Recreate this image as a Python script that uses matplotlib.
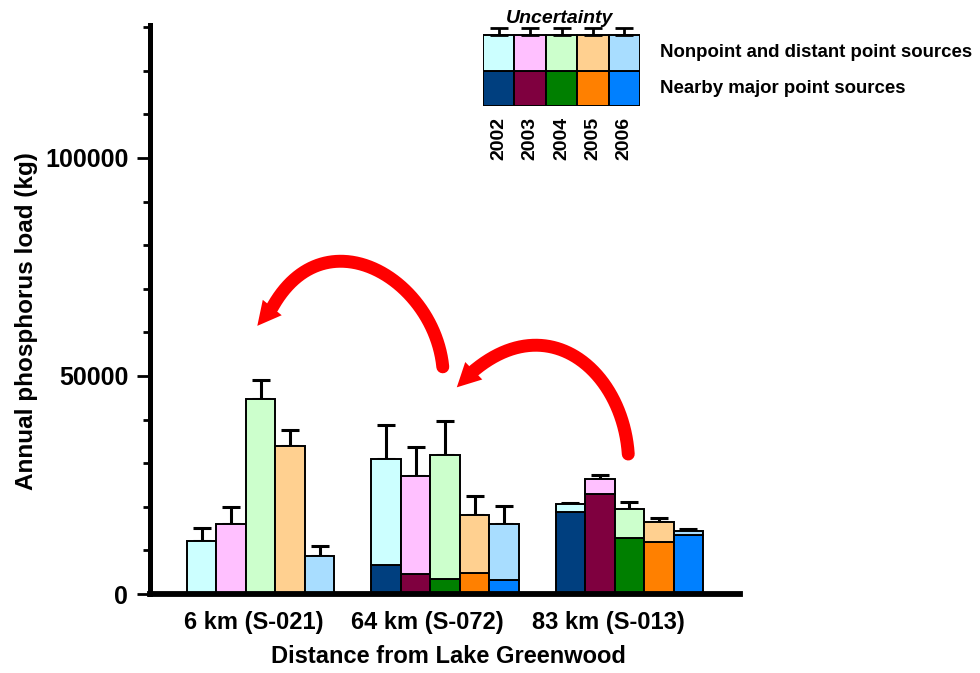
import matplotlib
matplotlib.use('Agg')
import matplotlib.pyplot as plt
import numpy as np
from matplotlib.ticker import MultipleLocator, FixedLocator
from matplotlib.transforms import ScaledTranslation

plt.rcParams['font.family'] = ['Liberation Sans', 'DejaVu Sans']
plt.rcParams['font.weight'] = 'bold'

years = ['2002', '2003', '2004', '2005', '2006']
sites = ['6 km (S-021)', '64 km (S-072)', '83 km (S-013)']

# Nearby major point sources (kg) per site, per year
nearby = [
    [0, 0, 0, 0, 0],
    [6600, 4700, 3400, 4900, 3100],
    [18900, 23000, 12900, 11900, 13500],
]
# Total load (nearby + nonpoint/distant) per site, per year
total = [
    [12200, 16000, 44700, 34000, 8800],
    [30900, 27100, 31900, 18100, 16100],
    [20600, 26400, 19400, 16400, 14500],
]
# Upper uncertainty (kg)
uncert = [
    [3000, 4000, 4400, 3500, 2300],
    [7800, 6700, 7800, 4400, 4100],
    [300, 900, 1600, 1100, 300],
]

light_colors = ['#CCFFFF', '#FFC0FF', '#CCFFCC', '#FFD090', '#A8DDFF']
dark_colors = ['#003F7F', '#7F003F', '#007F00', '#FF8000', '#0080FF']

# Curved red arrows: guide points along the shaft (tail ... head base), then the head tip (data coords)
arrow1_path = [(0.988, 52100), (0.928, 60900), (0.810, 68600), (0.467, 76400),
               (0.214, 72800), (0.123, 70100), (0.063, 65700)]
arrow1_tip = (-0.018, 61500)
arrow2_path = [(1.994, 32100), (1.971, 37600), (1.904, 45300), (1.803, 51400),
               (1.479, 57100), (1.271, 54400), (1.199, 52500), (1.156, 51200)]
arrow2_tip = (1.064, 47400)

fig = plt.figure(figsize=(9.8, 6.73), dpi=100)
ax = fig.add_axes([150/980, 1-594/673, 590/980, (594-25)/673])

w = 0.16
nearby = np.array(nearby, dtype=float)
total = np.array(total, dtype=float)
uncert = np.array(uncert, dtype=float)
for i in range(len(years)):
    x = np.arange(len(sites)) + (i - 2) * w
    ax.bar(x, nearby[:, i], width=w, color=dark_colors[i], edgecolor='black', linewidth=1.4, zorder=2)
    ax.bar(x, total[:, i] - nearby[:, i], bottom=nearby[:, i], width=w, color=light_colors[i],
           edgecolor='black', linewidth=1.4, zorder=2)
    ax.errorbar(x, total[:, i], yerr=[np.zeros(len(sites)), uncert[:, i]], fmt='none',
                ecolor='black', elinewidth=2.2, capsize=6.5, capthick=2.2, zorder=1.5)

ax.set_xlim(-0.6, 2.6)
ax.set_ylim(0, 130500)
for s in ['top', 'right']:
    ax.spines[s].set_visible(False)
ax.spines['left'].set_linewidth(3.6)
ax.spines['bottom'].set_linewidth(4.2)
ax.spines['left'].set_zorder(3)
ax.spines['bottom'].set_zorder(3)
ax.yaxis.set_major_locator(FixedLocator([0, 50000, 100000]))
ax.yaxis.set_minor_locator(MultipleLocator(10000))
ax.tick_params(axis='y', which='major', length=9.6, width=2, labelsize=18, pad=6)
ax.tick_params(axis='y', which='minor', length=5.3, width=2)
ax.set_xticks(range(len(sites)))
ax.set_xticklabels(sites)
ax.tick_params(axis='x', length=0, labelsize=17, pad=12)
label_shift_px = [-7, -17.5, -21.5]
for lab, dx in zip(ax.get_xticklabels(), label_shift_px):
    lab.set_transform(lab.get_transform() + ScaledTranslation(dx/100, 0, fig.dpi_scale_trans))
ax.set_ylabel('Annual phosphorus load (kg)', fontsize=17.5, fontweight='bold')
ax.yaxis.set_label_coords(-0.19, 0.48)
ax.set_xlabel('Distance from Lake Greenwood', fontsize=17, fontweight='bold')
ax.xaxis.set_label_coords(0.506, -0.0896)


def fit_cubic_bezier(Q, iters=8):
    """Least-squares cubic Bezier with fixed end points through guide points Q (display px)."""
    P0, P3 = Q[0], Q[-1]
    d = np.concatenate([[0], np.cumsum(np.hypot(*np.diff(Q, axis=0).T))])
    t = d / d[-1]
    for _ in range(iters):
        b0 = (1-t)**3
        b1 = 3*t*(1-t)**2
        b2 = 3*t**2*(1-t)
        b3 = t**3
        A = np.column_stack([b1, b2])
        rhs = Q - np.outer(b0, P0) - np.outer(b3, P3)
        sol, *_ = np.linalg.lstsq(A, rhs, rcond=None)
        P1, P2 = sol
        # reparameterize: nearest point on curve
        ts = np.linspace(0, 1, 2001)
        C = (np.outer((1-ts)**3, P0) + np.outer(3*ts*(1-ts)**2, P1) +
             np.outer(3*ts**2*(1-ts), P2) + np.outer(ts**3, P3))
        for k in range(1, len(Q)-1):
            t[k] = ts[np.argmin(np.hypot(*(C - Q[k]).T))]
    ts = np.linspace(0, 1, 300)
    return (np.outer((1-ts)**3, P0) + np.outer(3*ts*(1-ts)**2, P1) +
            np.outer(3*ts**2*(1-ts), P2) + np.outer(ts**3, P3))


def curved_arrow(ax, path, tip, lw=9.3, head_half=12.2, color='#FF0000'):
    T = ax.transData
    inv = T.inverted()
    P = T.transform(np.array(path, dtype=float))
    curve = fit_cubic_bezier(P)
    dc = inv.transform(curve)
    ax.plot(dc[:, 0], dc[:, 1], color=color, lw=lw, solid_capstyle='round',
            solid_joinstyle='round', zorder=4, clip_on=False)
    base = P[-1]
    tipd = T.transform(np.array(tip, dtype=float))
    v = tipd - base
    v = v / np.hypot(*v)
    n = np.array([-v[1], v[0]])
    head = np.array([base + head_half*n, tipd, base - head_half*n])
    hd = inv.transform(head)
    ax.fill(hd[:, 0], hd[:, 1], color=color, lw=0, zorder=4, clip_on=False)


curved_arrow(ax, arrow1_path, arrow1_tip)
curved_arrow(ax, arrow2_path, arrow2_tip)

# Legend as mini chart
lax = fig.add_axes([483/980, 1-106/673, 157/980, 88.75/673])
lax.set_xlim(-0.5, 4.5)
lax.set_ylim(0, 2.5)
lax.axis('off')
lx = np.arange(len(years))
lax.bar(lx, 1, width=1, bottom=0, color=dark_colors, edgecolor='black', linewidth=1.4)
lax.bar(lx, 1, width=1, bottom=1, color=light_colors, edgecolor='black', linewidth=1.4)
lax.errorbar(lx, np.full(len(years), 2.0), yerr=[np.zeros(len(years)), np.full(len(years), 0.19)],
             fmt='none', ecolor='black', elinewidth=2, capsize=6.5, capthick=2, zorder=1.5)
fig.text(560/980, 1-22.7/673, 'Uncertainty', style='italic', ha='center', va='baseline',
         fontsize=14, fontweight='bold')
for i, yr in enumerate(years):
    lax.text(i, 1-(116.7-106)/35.5 - 1, yr, rotation=90, ha='center', va='top', fontsize=14,
             fontweight='bold', clip_on=False)
fig.text(660/980, 1-57.3/673, 'Nonpoint and distant point sources', ha='left', va='baseline',
         fontsize=13.4, fontweight='bold')
fig.text(660/980, 1-92.7/673, 'Nearby major point sources', ha='left', va='baseline',
         fontsize=13.4, fontweight='bold')

fig.savefig('out.png', dpi=100)
